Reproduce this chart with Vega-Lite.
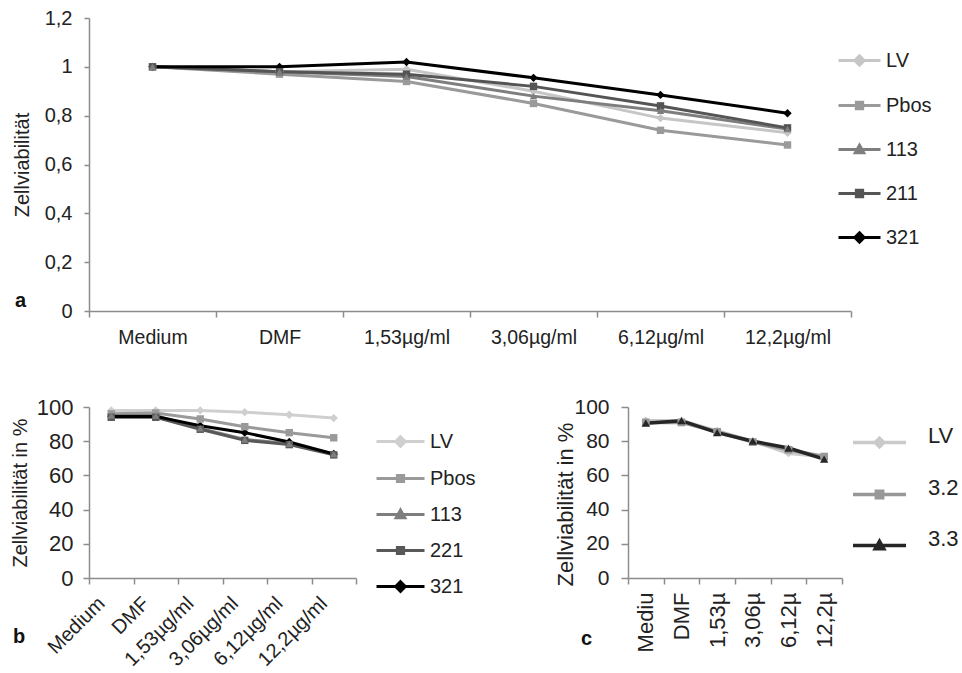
{
  "$schema": "https://vega.github.io/schema/vega-lite/v6.json",
  "background": "white",
  "padding": {"left": 10, "top": 8, "right": 0, "bottom": 0},
  "config": {
    "font": "Liberation Sans",
    "view": {"stroke": null},
    "axis": {"domainColor": "#8c8c8c", "domainWidth": 1.5, "tickColor": "#8c8c8c", "tickWidth": 1.5, "grid": false, "labelColor": "#222222", "titleColor": "#222222", "labelFont": "Liberation Sans", "titleFont": "Liberation Sans", "titleFontWeight": "normal"},
    "legend": {"labelFont": "Liberation Sans", "labelColor": "#222222"},
    "title": {"font": "Liberation Sans", "fontWeight": "bold", "color": "#111111"}
  },
  "datasets": {
    "a": [
      {"conc": "Medium", "series": "LV", "value": 1.0},
      {"conc": "DMF", "series": "LV", "value": 0.98},
      {"conc": "1,53µg/ml", "series": "LV", "value": 0.99},
      {"conc": "3,06µg/ml", "series": "LV", "value": 0.9},
      {"conc": "6,12µg/ml", "series": "LV", "value": 0.79},
      {"conc": "12,2µg/ml", "series": "LV", "value": 0.73},
      {"conc": "Medium", "series": "Pbos", "value": 1.0},
      {"conc": "DMF", "series": "Pbos", "value": 0.97},
      {"conc": "1,53µg/ml", "series": "Pbos", "value": 0.94},
      {"conc": "3,06µg/ml", "series": "Pbos", "value": 0.85},
      {"conc": "6,12µg/ml", "series": "Pbos", "value": 0.74},
      {"conc": "12,2µg/ml", "series": "Pbos", "value": 0.68},
      {"conc": "Medium", "series": "113", "value": 1.0},
      {"conc": "DMF", "series": "113", "value": 0.98},
      {"conc": "1,53µg/ml", "series": "113", "value": 0.96},
      {"conc": "3,06µg/ml", "series": "113", "value": 0.88},
      {"conc": "6,12µg/ml", "series": "113", "value": 0.82},
      {"conc": "12,2µg/ml", "series": "113", "value": 0.745},
      {"conc": "Medium", "series": "211", "value": 1.0},
      {"conc": "DMF", "series": "211", "value": 0.98},
      {"conc": "1,53µg/ml", "series": "211", "value": 0.97},
      {"conc": "3,06µg/ml", "series": "211", "value": 0.92},
      {"conc": "6,12µg/ml", "series": "211", "value": 0.84},
      {"conc": "12,2µg/ml", "series": "211", "value": 0.75},
      {"conc": "Medium", "series": "321", "value": 1.0},
      {"conc": "DMF", "series": "321", "value": 1.0},
      {"conc": "1,53µg/ml", "series": "321", "value": 1.02},
      {"conc": "3,06µg/ml", "series": "321", "value": 0.955},
      {"conc": "6,12µg/ml", "series": "321", "value": 0.885},
      {"conc": "12,2µg/ml", "series": "321", "value": 0.81}
    ],
    "b": [
      {"conc": "Medium", "series": "LV", "value": 98},
      {"conc": "DMF", "series": "LV", "value": 98},
      {"conc": "1,53µg/ml", "series": "LV", "value": 98},
      {"conc": "3,06µg/ml", "series": "LV", "value": 97},
      {"conc": "6,12µg/ml", "series": "LV", "value": 95.5},
      {"conc": "12,2µg/ml", "series": "LV", "value": 93.5},
      {"conc": "Medium", "series": "Pbos", "value": 96},
      {"conc": "DMF", "series": "Pbos", "value": 96.5},
      {"conc": "1,53µg/ml", "series": "Pbos", "value": 93},
      {"conc": "3,06µg/ml", "series": "Pbos", "value": 88.5},
      {"conc": "6,12µg/ml", "series": "Pbos", "value": 85},
      {"conc": "12,2µg/ml", "series": "Pbos", "value": 82},
      {"conc": "Medium", "series": "113", "value": 95},
      {"conc": "DMF", "series": "113", "value": 95},
      {"conc": "1,53µg/ml", "series": "113", "value": 87.5},
      {"conc": "3,06µg/ml", "series": "113", "value": 81},
      {"conc": "6,12µg/ml", "series": "113", "value": 78.5},
      {"conc": "12,2µg/ml", "series": "113", "value": 72.5},
      {"conc": "Medium", "series": "221", "value": 94},
      {"conc": "DMF", "series": "221", "value": 94},
      {"conc": "1,53µg/ml", "series": "221", "value": 87},
      {"conc": "3,06µg/ml", "series": "221", "value": 80.5},
      {"conc": "6,12µg/ml", "series": "221", "value": 78},
      {"conc": "12,2µg/ml", "series": "221", "value": 72},
      {"conc": "Medium", "series": "321", "value": 94.5},
      {"conc": "DMF", "series": "321", "value": 94.5},
      {"conc": "1,53µg/ml", "series": "321", "value": 89},
      {"conc": "3,06µg/ml", "series": "321", "value": 85},
      {"conc": "6,12µg/ml", "series": "321", "value": 79.5},
      {"conc": "12,2µg/ml", "series": "321", "value": 72.5}
    ],
    "c": [
      {"conc": "Medium", "series": "LV", "value": 92},
      {"conc": "DMF", "series": "LV", "value": 92},
      {"conc": "1,53µg/ml", "series": "LV", "value": 86},
      {"conc": "3,06µg/ml", "series": "LV", "value": 80},
      {"conc": "6,12µg/ml", "series": "LV", "value": 73},
      {"conc": "12,2µg/ml", "series": "LV", "value": 71},
      {"conc": "Medium", "series": "3.2", "value": 91},
      {"conc": "DMF", "series": "3.2", "value": 91},
      {"conc": "1,53µg/ml", "series": "3.2", "value": 85.5},
      {"conc": "3,06µg/ml", "series": "3.2", "value": 79.5},
      {"conc": "6,12µg/ml", "series": "3.2", "value": 75},
      {"conc": "12,2µg/ml", "series": "3.2", "value": 71},
      {"conc": "Medium", "series": "3.3", "value": 90.5},
      {"conc": "DMF", "series": "3.3", "value": 92},
      {"conc": "1,53µg/ml", "series": "3.3", "value": 85},
      {"conc": "3,06µg/ml", "series": "3.3", "value": 80},
      {"conc": "6,12µg/ml", "series": "3.3", "value": 76},
      {"conc": "12,2µg/ml", "series": "3.3", "value": 69.5}
    ]
  },
  "bounds": "flush",
  "spacing": 96,
  "resolve": {"scale": {"color": "independent", "x": "independent", "y": "independent"}, "legend": {"color": "independent"}},
  "vconcat": [
    {
      "width": 762,
      "height": 293,
      "data": {"name": "a"},
      "title": {"text": "a", "orient": "bottom", "anchor": "start", "frame": "group", "fontSize": 20, "dx": -74, "dy": -60},
      "encoding": {
        "x": {"field": "conc", "type": "nominal", "sort": ["Medium", "DMF", "1,53µg/ml", "3,06µg/ml", "6,12µg/ml", "12,2µg/ml"], "scale": {"type": "band", "paddingInner": 0, "paddingOuter": 0}, "axis": {"title": null, "labelAngle": 0, "labelFontSize": 19.5, "labelPadding": 11, "tickBand": "extent", "tickSize": 6}},
        "y": {"field": "value", "type": "quantitative", "scale": {"domain": [0, 1.2]}, "axis": {"title": "Zellviabilität", "values": [0, 0.2, 0.4, 0.6, 0.8, 1, 1.2], "labelExpr": "replace(format(datum.value, '~g'), '.', ',')", "labelFontSize": 20, "titleFontSize": 20, "tickSize": 5, "labelPadding": 12, "titlePadding": 12}},
        "color": {
          "field": "series", "type": "nominal",
          "scale": {"domain": ["LV", "Pbos", "113", "211", "321"], "range": ["#c6c6c6", "#9a9a9a", "#7e7e7e", "#555555", "#000000"]},
          "legend": {
            "orient": "none", "legendX": 748, "legendY": 20, "title": null, "symbolSize": 1764, "labelFontSize": 20, "labelOffset": 4, "rowPadding": 11, "padding": 0,
            "encode": {"symbols": {"update": {
              "shape": {"signal": "(datum.value === 'LV' || datum.value === '321') ? 'M-1,0L1,0M0,-0.22L0.22,0L0,0.22L-0.22,0Z' : datum.value === '113' ? 'M-1,0L1,0M0,-0.2L0.2,0.16L-0.2,0.16Z' : 'M-1,0L1,0M-0.15,-0.15L0.15,-0.15L0.15,0.15L-0.15,0.15Z'"},
              "stroke": {"signal": "datum.value === 'LV' ? '#c6c6c6' : datum.value === 'Pbos' ? '#9a9a9a' : datum.value === '113' ? '#7e7e7e' : datum.value === '211' ? '#555555' : '#000000'"},
              "fill": {"signal": "datum.value === 'LV' ? '#c6c6c6' : datum.value === 'Pbos' ? '#9a9a9a' : datum.value === '113' ? '#7e7e7e' : datum.value === '211' ? '#555555' : '#000000'"},
              "strokeWidth": {"value": 3},
              "opacity": {"value": 1}
            }}}
          }
        }
      },
      "layer": [
        {"mark": {"type": "line", "strokeWidth": 3}},
        {"transform": [{"filter": {"field": "series", "oneOf": ["LV", "321"]}}], "mark": {"type": "point", "shape": "diamond", "filled": true, "size": 70, "opacity": 1}},
        {"transform": [{"filter": {"field": "series", "oneOf": ["Pbos", "211"]}}], "mark": {"type": "point", "shape": "square", "filled": true, "size": 55, "opacity": 1}},
        {"transform": [{"filter": {"field": "series", "oneOf": ["113"]}}], "mark": {"type": "point", "shape": "triangle-up", "filled": true, "size": 55, "opacity": 1}}
      ]
    },
    {
      "bounds": "flush",
      "spacing": 272,
      "resolve": {"scale": {"color": "independent", "x": "independent", "y": "independent"}, "legend": {"color": "independent"}},
      "hconcat": [
        {
          "width": 267,
          "height": 171,
          "data": {"name": "b"},
          "title": {"text": "b", "orient": "bottom", "anchor": "start", "frame": "group", "fontSize": 20, "dx": -76, "dy": -46},
          "encoding": {
            "x": {"field": "conc", "type": "nominal", "sort": ["Medium", "DMF", "1,53µg/ml", "3,06µg/ml", "6,12µg/ml", "12,2µg/ml"], "scale": {"type": "band", "paddingInner": 0, "paddingOuter": 0}, "axis": {"title": null, "labelAngle": -45, "labelAlign": "right", "labelBaseline": "middle", "labelFontSize": 20, "labelPadding": 16, "labelOffset": -10, "tickBand": "extent", "tickSize": 6}},
            "y": {"field": "value", "type": "quantitative", "scale": {"domain": [0, 100]}, "axis": {"title": "Zellviabilität in %", "values": [0, 20, 40, 60, 80, 100], "labelFontSize": 22, "titleFontSize": 20, "tickSize": 6, "labelPadding": 10, "titlePadding": 6}},
            "color": {
              "field": "series", "type": "nominal",
              "scale": {"domain": ["LV", "Pbos", "113", "221", "321"], "range": ["#cfcfcf", "#9a9a9a", "#7e7e7e", "#585858", "#000000"]},
              "legend": {
                "orient": "none", "legendX": 286, "legendY": 9, "title": null, "symbolSize": 2304, "labelFontSize": 20, "labelOffset": 4, "rowPadding": -1, "padding": 0,
                "encode": {"symbols": {"update": {
                  "shape": {"signal": "(datum.value === 'LV' || datum.value === '321') ? 'M-1,0L1,0M0,-0.2L0.2,0L0,0.2L-0.2,0Z' : datum.value === '113' ? 'M-1,0L1,0M0,-0.18L0.18,0.14L-0.18,0.14Z' : 'M-1,0L1,0M-0.13,-0.13L0.13,-0.13L0.13,0.13L-0.13,0.13Z'"},
                  "stroke": {"signal": "datum.value === 'LV' ? '#cfcfcf' : datum.value === 'Pbos' ? '#9a9a9a' : datum.value === '113' ? '#7e7e7e' : datum.value === '221' ? '#585858' : '#000000'"},
                  "fill": {"signal": "datum.value === 'LV' ? '#cfcfcf' : datum.value === 'Pbos' ? '#9a9a9a' : datum.value === '113' ? '#7e7e7e' : datum.value === '221' ? '#585858' : '#000000'"},
                  "strokeWidth": {"value": 3},
                  "opacity": {"value": 1}
                }}}
              }
            }
          },
          "layer": [
            {"mark": {"type": "line", "strokeWidth": 3}},
            {"transform": [{"filter": {"field": "series", "oneOf": ["LV", "321"]}}], "mark": {"type": "point", "shape": "diamond", "filled": true, "size": 70, "opacity": 1}},
            {"transform": [{"filter": {"field": "series", "oneOf": ["Pbos", "221"]}}], "mark": {"type": "point", "shape": "square", "filled": true, "size": 55, "opacity": 1}},
            {"transform": [{"filter": {"field": "series", "oneOf": ["113"]}}], "mark": {"type": "point", "shape": "triangle-up", "filled": true, "size": 55, "opacity": 1}}
          ]
        },
        {
          "width": 214,
          "height": 171,
          "data": {"name": "c"},
          "title": {"text": "c", "orient": "bottom", "anchor": "start", "frame": "group", "fontSize": 20, "dx": -47, "dy": -27},
          "encoding": {
            "x": {"field": "conc", "type": "nominal", "sort": ["Medium", "DMF", "1,53µg/ml", "3,06µg/ml", "6,12µg/ml", "12,2µg/ml"], "scale": {"type": "band", "paddingInner": 0, "paddingOuter": 0}, "axis": {"title": null, "labelAngle": -90, "labelAlign": "right", "labelBaseline": "middle", "labelFontSize": 22, "labelPadding": 8, "labelExpr": "slice(datum.label, 0, 5)", "tickBand": "extent", "tickSize": 6}},
            "y": {"field": "value", "type": "quantitative", "scale": {"domain": [0, 100]}, "axis": {"title": "Zellviabilität in %", "values": [0, 20, 40, 60, 80, 100], "labelFontSize": 21, "titleFontSize": 22, "tickSize": 7, "labelPadding": 12, "titlePadding": -4, "titleY": 97}},
            "color": {
              "field": "series", "type": "nominal",
              "scale": {"domain": ["LV", "3.2", "3.3"], "range": ["#cacaca", "#989898", "#262626"]},
              "legend": {
                "orient": "none", "legendX": 223, "legendY": 7, "title": null, "symbolSize": 2809, "labelFontSize": 22, "labelOffset": 20, "rowPadding": 12, "padding": 0,
                "encode": {
                  "symbols": {"update": {
                    "shape": {"signal": "datum.value === 'LV' ? 'M-1,0L1,0M0,-0.16L0.16,0L0,0.16L-0.16,0Z' : datum.value === '3.3' ? 'M-1,0L1,0M0,-0.16L0.16,0.12L-0.16,0.12Z' : 'M-1,0L1,0M-0.12,-0.12L0.12,-0.12L0.12,0.12L-0.12,0.12Z'"},
                    "stroke": {"signal": "datum.value === 'LV' ? '#cacaca' : datum.value === '3.2' ? '#989898' : '#262626'"},
                    "fill": {"signal": "datum.value === 'LV' ? '#cacaca' : datum.value === '3.2' ? '#989898' : '#262626'"},
                    "strokeWidth": {"value": 3.5},
                    "opacity": {"value": 1}
                  }},
                  "labels": {"update": {"dy": {"value": -7}}}
                }
              }
            }
          },
          "layer": [
            {"mark": {"type": "line", "strokeWidth": 3.5}},
            {"transform": [{"filter": {"field": "series", "oneOf": ["LV"]}}], "mark": {"type": "point", "shape": "diamond", "filled": true, "size": 70, "opacity": 1}},
            {"transform": [{"filter": {"field": "series", "oneOf": ["3.2"]}}], "mark": {"type": "point", "shape": "square", "filled": true, "size": 60, "opacity": 1}},
            {"transform": [{"filter": {"field": "series", "oneOf": ["3.3"]}}], "mark": {"type": "point", "shape": "triangle-up", "filled": true, "size": 70, "opacity": 1}}
          ]
        }
      ]
    }
  ]
}
